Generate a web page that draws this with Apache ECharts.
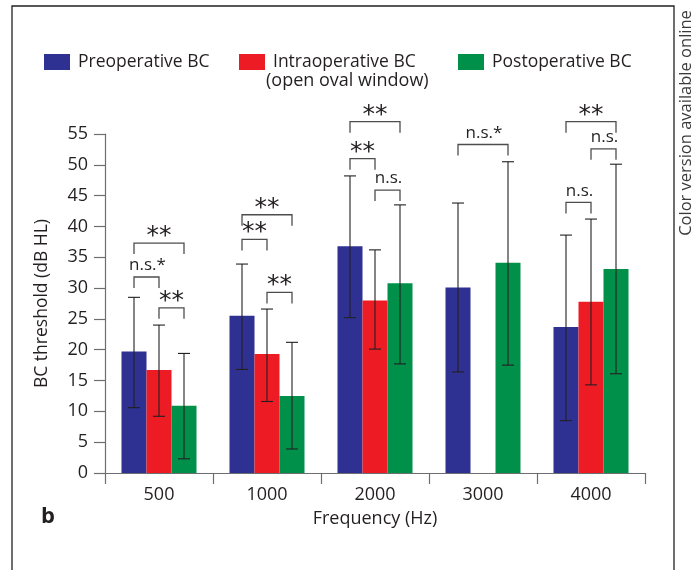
<!DOCTYPE html>
<html>
<head>
<meta charset="utf-8">
<script src="https://cdn.jsdelivr.net/npm/echarts@6/dist/echarts.min.js"></script>
<style>html,body{margin:0;padding:0;background:#fff}#c{width:695px;height:570px}</style>
</head>
<body>
<div id="c"></div>
<script>
// ---- data ----
var categories = ['500', '1000', '2000', '3000', '4000'];
var seriesNames = ['Preoperative BC', 'Intraoperative BC', 'Postoperative BC'];
var preMean   = [19.7, 25.5, 36.8, 30.1, 23.7];
var preLow    = [10.6, 16.8, 25.2, 16.4, 8.5];
var preHigh   = [28.5, 33.9, 48.2, 43.8, 38.6];
var intraMean = [16.7, 19.3, 28.0, null, 27.8];
var intraLow  = [9.2, 11.6, 20.1, null, 14.3];
var intraHigh = [24.0, 26.6, 36.2, null, 41.2];
var postMean  = [10.9, 12.5, 30.8, 34.1, 33.1];
var postLow   = [2.3, 3.9, 17.7, 17.5, 16.1];
var postHigh  = [19.4, 21.2, 43.5, 50.5, 50.1];
var yTicks = [0, 5, 10, 15, 20, 25, 30, 35, 40, 45, 50, 55];
// significance brackets: [category index, from series, to series, level (dB), label]
var brackets = [
  [0, 0, 1, 31.8, 'n.s.*'], [0, 0, 2, 37.3, '**'], [0, 1, 2, 26.8, '**'],
  [1, 0, 2, 41.9, '**'], [1, 0, 1, 37.9, '**'], [1, 1, 2, 29.3, '**'],
  [2, 0, 2, 57.0, '**'], [2, 0, 1, 51.0, '**'], [2, 1, 2, 45.9, 'n.s.'],
  [3, 0, 2, 53.3, 'n.s.*'],
  [4, 0, 2, 57.0, '**'], [4, 1, 2, 52.6, 'n.s.'], [4, 0, 1, 43.9, 'n.s.']
];

// ---- styling ----
var FONT = '"Open Sans", "Noto Sans", sans-serif';
var TXT = '#231f20';
var AX = '#6d6e71';
var colors = ['#2e3192', '#ed1c24', '#00904a'];
var BAR_W = 25;

var means = [preMean, intraMean, postMean];
var lows = [preLow, intraLow, postLow];
var highs = [preHigh, intraHigh, postHigh];

var errData = [];
for (var s = 0; s < 3; s++) {
  for (var i = 0; i < categories.length; i++) {
    if (means[s][i] != null) errData.push([i, lows[s][i], highs[s][i], s]);
  }
}

var chart = echarts.init(document.getElementById('c'), null, {renderer: 'canvas'});

var barSeries = seriesNames.map(function (n, s) {
  return {
    name: n, type: 'bar', data: means[s], barWidth: BAR_W, barGap: '0%',
    itemStyle: {color: colors[s]}, z: 2, silent: true
  };
});

function legendFor(idx, left) {
  return {
    data: [seriesNames[idx]], left: left, top: 48, itemWidth: 26, itemHeight: 16,
    icon: 'rect', selectedMode: false,
    textStyle: {fontFamily: FONT, fontSize: 17.5, color: TXT, padding: [0, 0, 0, 3]}
  };
}

var option = {
  animation: false,
  backgroundColor: '#fff',
  legend: [legendFor(0, 39), legendFor(1, 234), legendFor(2, 453)],
  grid: {left: 105, right: 50, top: 134, bottom: 97, containLabel: false},
  xAxis: {
    type: 'category', data: categories,
    name: 'Frequency (Hz)', nameLocation: 'middle', nameGap: 37,
    nameTextStyle: {fontFamily: FONT, fontSize: 18, color: TXT},
    axisLine: {lineStyle: {color: AX, width: 1.2}},
    axisTick: {show: true, length: 11, lineStyle: {color: AX, width: 1.2}},
    axisLabel: {fontFamily: FONT, fontSize: 18, color: TXT, margin: 13}
  },
  yAxis: {
    type: 'value', min: yTicks[0], max: yTicks[yTicks.length - 1], interval: 5,
    name: 'BC threshold (dB HL)', nameLocation: 'middle', nameGap: 54,
    nameTextStyle: {fontFamily: FONT, fontSize: 17.5, color: TXT},
    splitLine: {show: false},
    axisLine: {show: true, lineStyle: {color: AX, width: 1.2}},
    axisTick: {show: true, length: 11, lineStyle: {color: AX, width: 1.2}},
    axisLabel: {fontFamily: FONT, fontSize: 18, color: TXT, margin: 17}
  },
  series: barSeries.concat([
    {
      type: 'custom', name: 'err', data: errData, z: 5, silent: true, clip: false,
      encode: {x: 0, y: [1, 2]},
      renderItem: function (params, api) {
        var c = api.value(0), s = api.value(3);
        var lo = api.coord([c, api.value(1)]);
        var hi = api.coord([c, api.value(2)]);
        var x = lo[0] + (s - 1) * BAR_W;
        var cap = 6;
        var st = {stroke: '#231f20', lineWidth: 1.1};
        return {type: 'group', children: [
          {type: 'line', shape: {x1: x, y1: lo[1], x2: x, y2: hi[1]}, style: st},
          {type: 'line', shape: {x1: x - cap, y1: lo[1], x2: x + cap, y2: lo[1]}, style: st},
          {type: 'line', shape: {x1: x - cap, y1: hi[1], x2: x + cap, y2: hi[1]}, style: st}
        ]};
      }
    },
    {
      type: 'custom', name: 'sig', data: brackets, z: 6, silent: true, clip: false,
      encode: {x: 0, y: 3},
      renderItem: function (params, api) {
        var c = api.value(0), a = api.value(1), b = api.value(2);
        var p = api.coord([c, api.value(3)]);
        var x1 = p[0] + (a - 1) * BAR_W, x2 = p[0] + (b - 1) * BAR_W, y = p[1];
        var label = brackets[params.dataIndex][4];
        var isStar = label === '**';
        return {type: 'group', children: [
          {type: 'polyline', shape: {points: [[x1, y + 11], [x1, y], [x2, y], [x2, y + 11]]},
           style: {stroke: '#4d4d4f', lineWidth: 1.3, fill: null}},
          {type: 'text', style: {
            text: label,
            x: (x1 + x2) / 2 + (isStar ? 0 : 1), y: isStar ? y + 6 : y - 3,
            align: 'center', verticalAlign: 'bottom',
            font: isStar ? '25px "DejaVu Sans", sans-serif' : '17px ' + FONT, fill: TXT
          }}
        ]};
      }
    }
  ]),
  graphic: [
    {type: 'rect', shape: {x: 12, y: 6, width: 662, height: 580}, silent: true,
     style: {fill: null, stroke: '#231f20', lineWidth: 1.3}},
    {type: 'text', left: 266, top: 72, silent: true,
     style: {text: '(open oval window)', font: '18px ' + FONT, fill: TXT}},
    {type: 'text', x: 41, y: 506, silent: true,
     style: {text: 'b', font: 'bold 22px ' + FONT, fill: TXT}},
    {type: 'text', x: 686, y: 123, rotation: Math.PI / 2, silent: true,
     style: {text: 'Color version available online', font: '16.5px ' + FONT, fill: '#3a3a3a',
             align: 'center', verticalAlign: 'middle'}}
  ]
};
chart.setOption(option);
</script>
</body>
</html>
